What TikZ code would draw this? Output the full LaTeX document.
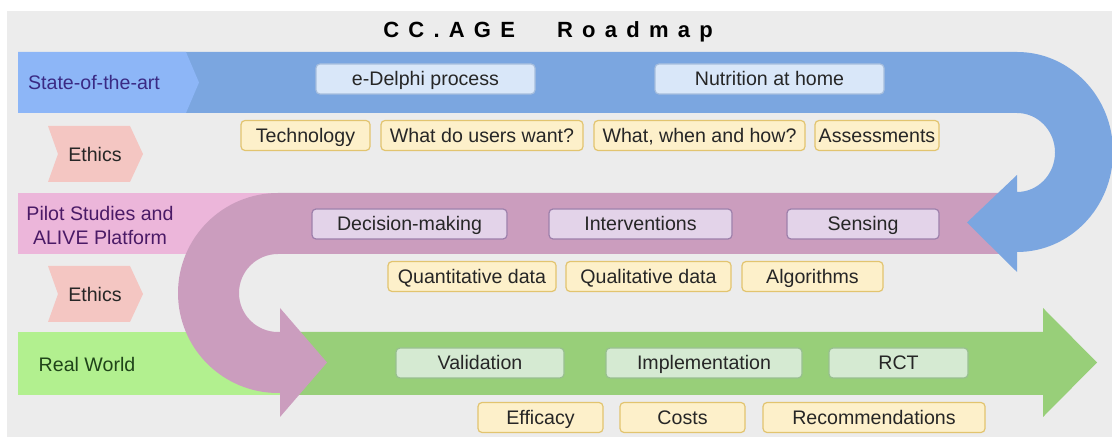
\documentclass[tikz,border=0pt]{standalone}
\usepackage{fontspec}
\setmainfont{Liberation Sans}
\usepackage{tikz}
\usetikzlibrary{
  	positioning,
  	calc
  }

\definecolor{bggray}{HTML}{ECECEC}
\definecolor{bluelight}{HTML}{8DB6F7}
\definecolor{bluedark}{HTML}{7BA6E0}
\definecolor{pinklight}{HTML}{ECB6DA}
\definecolor{mauve}{HTML}{CB9DBE}
\definecolor{greenlight}{HTML}{B2F08F}
\definecolor{greendark}{HTML}{98CF79}
\definecolor{ethicspink}{HTML}{F4C6C2}
\definecolor{boxblue}{HTML}{D9E7F9}
\definecolor{boxblueline}{HTML}{A7BEDD}
\definecolor{boxyel}{HTML}{FDF0CA}
\definecolor{boxyelline}{HTML}{E2C46F}
\definecolor{boxpur}{HTML}{E3D3E9}
\definecolor{boxpurline}{HTML}{9D80AB}
\definecolor{boxgrn}{HTML}{D5EAD2}
\definecolor{boxgrnline}{HTML}{98BF90}
\definecolor{stateblue}{HTML}{3A2A84}
\definecolor{pilotpurple}{HTML}{4A1A66}
\definecolor{worldgreen}{HTML}{1F4419}

\tikzset{
  tag/.style={draw, rounded corners=2pt, line width=0.6pt, minimum height=15pt,
    inner sep=0pt, outer sep=0pt, text=black!85, text height=8pt, text depth=1.4pt},
  tagblue/.style={tag, fill=boxblue, draw=boxblueline},
  tagyel/.style={tag, fill=boxyel, draw=boxyelline},
  tagpur/.style={tag, fill=boxpur, draw=boxpurline},
  taggrn/.style={tag, fill=boxgrn, draw=boxgrnline},
  ethics/.style={fill=ethicspink}
}

\begin{document}
\begin{tikzpicture}[x=.5pt, y=-.5pt, every node/.style={font=\fontsize{9.8}{12}\selectfont}]
	\useasboundingbox (0,0) rectangle (1112,437);
	\fill[bggray] (7,11) rectangle (1112,437);
	\node[font=\bfseries\fontsize{11}{13}\selectfont\addfontfeature{LetterSpace=42}] (title) at (548,32) {CC.AGE\hspace{21pt}Roadmap};
%
	\fill[greenlight] (18,332) rectangle (285,395);
	\fill[greendark] (280,332) -- (1043,332) -- (1043,308) -- (1097,362.5) -- (1043,417) -- (1043,395) -- (280,395) -- cycle;
	\fill[pinklight] (18,193) rectangle (285,254);
	\fill[mauve] (1000,193) -- (278,193) arc[start angle=-90, end angle=-270, radius=100]
	  -- (280,393) -- (280,417) -- (327,362.5) -- (280,308) -- (280,332) -- (278,332)
	  arc[start angle=90, end angle=270, radius=39] -- (1000,254) -- cycle;
	\fill[bluedark] (150,52) -- (1017,52) arc[start angle=-90, end angle=90, x radius=96, y radius=100]
	  -- (1017,272) -- (967,222.5) -- (1017,175) -- (1017,192)
	  arc[start angle=90, end angle=-90, x radius=38, y radius=39.5] -- (150,113) -- cycle;
	\fill[bluelight] (18,52) -- (186,52) -- (199,82.5) -- (186,113) -- (18,113) -- cycle;
	\fill[ethics] (48,126) -- (130,126) -- (143,154) -- (130,182) -- (48,182) -- (58,154) -- cycle;
	\fill[ethics] (48,266) -- (130,266) -- (143,294) -- (130,322) -- (48,322) -- (58,294) -- cycle;
%
	\node[text=stateblue] (state) at (94,82.5) {State-of-the-art};
	\node[text=pilotpurple, align=center] (pilot) at (100,225) {Pilot Studies and\\ALIVE Platform};
	\node[text=worldgreen] (world) at (87,364) {Real World};
	\node[text=black!85] (eth1) at (95,154) {Ethics};
	\node[text=black!85] (eth2) at (95,294) {Ethics};
%
	\node[tagblue, minimum width=109.5pt, anchor=west] (delphi) at (316,79) {e-Delphi process};
	\node[tagblue, minimum width=114.5pt, right=60pt of delphi] (home) {Nutrition at home};
%
	\node[tagyel, minimum width=64.5pt, anchor=west] (tech) at (241,135.5) {Technology};
	\node[tagyel, minimum width=101pt, right=5.5pt of tech] (want) {What do users want?};
	\node[tagyel, minimum width=105.5pt, right=5.5pt of want] (how) {What, when and how?};
	\node[tagyel, minimum width=62pt, right=5pt of how] (assess) {Assessments};
%
	\node[tagpur, minimum width=97.5pt, anchor=west] (decide) at (312,224) {Decision-making};
	\node[tagpur, minimum width=91.5pt, right=21pt of decide] (interv) {Interventions};
	\node[tagpur, minimum width=76pt, right=27.5pt of interv] (sense) {Sensing};
%
	\node[tagyel, minimum width=84pt, anchor=west] (quant) at (388,276.5) {Quantitative data};
	\node[tagyel, minimum width=82.5pt, right=5pt of quant] (qual) {Qualitative data};
	\node[tagyel, minimum width=70.5pt, right=5.5pt of qual] (algo) {Algorithms};
%
	\node[taggrn, minimum width=84pt, anchor=west] (valid) at (396,363) {Validation};
	\node[taggrn, minimum width=98pt, right=21pt of valid] (impl) {Implementation};
	\node[taggrn, minimum width=69.5pt, right=13.5pt of impl] (rct) {RCT};
%
	\node[tagyel, minimum width=62.5pt, anchor=west] (effic) at (478,417.5) {Efficacy};
	\node[tagyel, minimum width=62.5pt, right=8.5pt of effic] (costs) {Costs};
	\node[tagyel, minimum width=111pt, right=9pt of costs] (recom) {Recommendations};
\end{tikzpicture}
\end{document}
